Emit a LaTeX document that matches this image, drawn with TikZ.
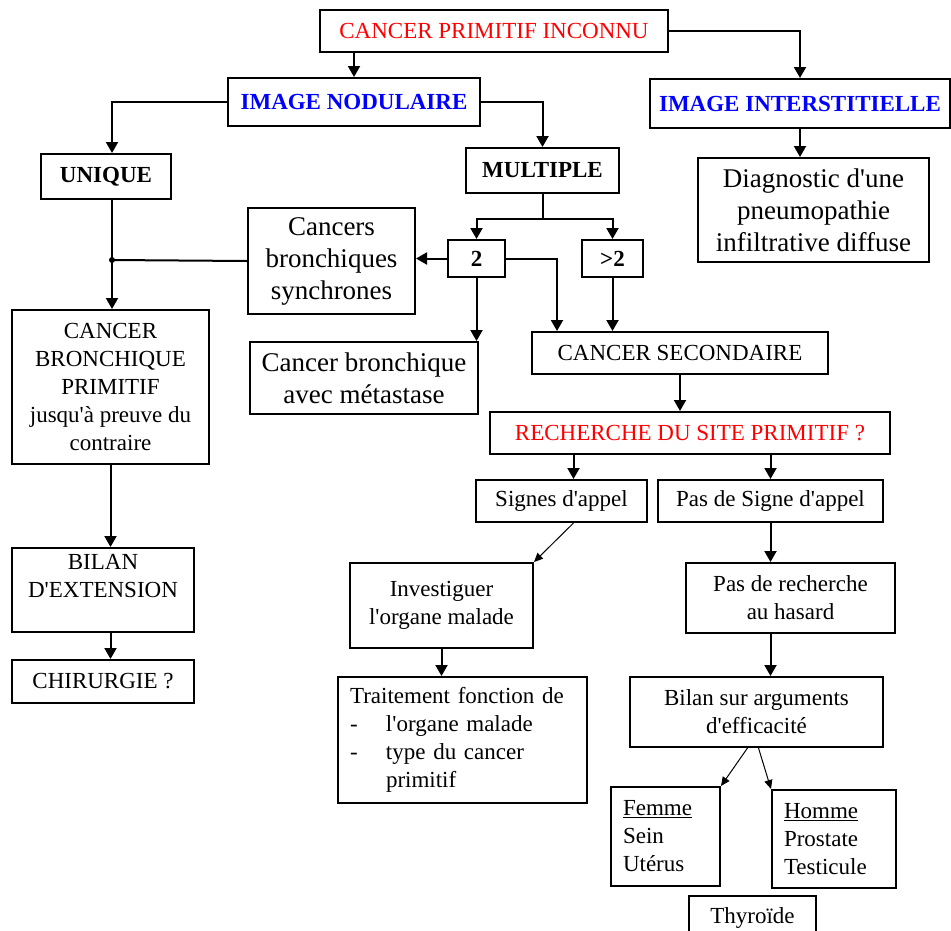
\documentclass[tikz,border=0pt]{standalone}
\usepackage{fontspec}
\setmainfont{Liberation Serif}[Ligatures=TeXOff]
\usetikzlibrary{positioning,arrows.meta}
\definecolor{diagrouge}{RGB}{255,0,0}
\definecolor{diagbleu}{RGB}{0,0,255}
\tikzset{
  boite/.style={draw,line width=2pt,inner sep=2pt,align=center,font=\fontsize{23}{28}\selectfont},
  grande/.style={boite,font=\fontsize{27}{32}\selectfont},
  gras/.style={boite,font=\fontsize{23}{28}\selectfont\bfseries},
  image/.style={gras,text=diagbleu},
  liste/.style={boite,align=left,inner xsep=12pt},
  trait/.style={line width=2pt},
  fleche/.style={trait,-{Triangle[length=11pt,width=12pt]}},
  oblique/.style={line width=1pt,-{Triangle[length=9pt,width=8pt]}}
}

\begin{document}
\begin{tikzpicture}[x=1pt,y=-1pt]
    \useasboundingbox (0,0) rectangle (951,930);
    % branche du haut
    \node[boite,text=diagrouge,minimum width=348pt,minimum height=42pt] (cpi) at (494,31) {CANCER PRIMITIF INCONNU};
    \node[image,minimum width=252pt,minimum height=48pt] (nod) at (354,102) {IMAGE NODULAIRE};
    \node[image,minimum width=300pt,minimum height=49pt] (inter) at (800,103.5) {IMAGE INTERSTITIELLE};
    \node[gras,minimum width=130pt,minimum height=45pt] (uni) at (106,176.5) {UNIQUE};
    \node[gras,minimum width=153pt,minimum height=45pt] (mul) at (542.5,170.5) {MULTIPLE};
    \node[grande,minimum width=231pt,minimum height=104pt] (diag) at (813.5,210) {Diagnostic d'une\\pneumopathie\\infiltrative diffuse};
    \node[grande,minimum width=167pt,minimum height=106pt] (cbs) at (331.5,261) {Cancers\\bronchiques\\synchrones};
    \node[gras,minimum width=57pt,minimum height=37pt] (deux) at (476.5,258.5) {2};
    \node[gras,minimum width=61pt,minimum height=37pt] (plus) at (612.5,258.5) {>2};
    \node[grande,minimum width=228pt,minimum height=72pt] (met) at (364,378) {Cancer bronchique\\avec métastase};
    \node[boite,minimum width=296pt,minimum height=42pt] (sec) at (680,353) {CANCER SECONDAIRE};
    % colonne de gauche
    \node[boite,minimum width=197pt,minimum height=154pt] (cbp) at (110.5,387) {CANCER\\BRONCHIQUE\\PRIMITIF\\jusqu'à preuve du\\contraire};
    \node[boite,minimum width=182pt,minimum height=84pt] (bex) at (103,590) {BILAN\\D'EXTENSION\\~};
    \node[boite,minimum width=182pt,minimum height=43pt] (chi) at (103,681.5) {CHIRURGIE ?};
    % recherche du site primitif
    \node[boite,text=diagrouge,minimum width=400pt,minimum height=42pt] (rec) at (690,433) {RECHERCHE DU SITE PRIMITIF ?};
    \node[boite,minimum width=171pt,minimum height=42pt] (sig) at (561.5,501) {Signes d'appel};
    \node[boite,minimum width=225pt,minimum height=42pt] (pas) at (770.5,501) {Pas de Signe d'appel};
    \node[boite,minimum width=183pt,minimum height=85pt] (inv) at (441.5,605.5) {Investiguer\\l'organe malade};
    \node[boite,minimum width=209pt,minimum height=70pt] (prh) at (790.5,598) {Pas de recherche\\au hasard};
    \node[liste,text width=225pt,minimum height=126pt] (trt) at (462.5,740) {Traitement fonction de\\\makebox[36pt][l]{-}l'organe malade\\\makebox[36pt][l]{-}type du cancer\\\hspace*{36pt}primitif};
    \node[boite,minimum width=253pt,minimum height=70pt] (bil) at (756.5,712) {Bilan sur arguments\\d'efficacité};
    \node[liste,text width=85pt,minimum height=99pt] (fem) at (665.5,836.5) {\underline{Femme}\\Sein\\Utérus};
    \node[liste,text width=100pt,minimum height=98pt] (hom) at (834,839) {\underline{Homme}\\Prostate\\Testicule};
    \node[boite,minimum width=127pt,minimum height=44pt] (thy) at (752.5,918) {Thyroïde};
    % liaisons
    \coordinate (jonction) at (112,260);
    \draw[fleche] (cpi.south -| nod.north) -- (nod.north);
    \draw[fleche] (cpi.east) -| (inter.north);
    \draw[fleche] (nod.west) -| (jonction |- uni.north);
    \draw[fleche] (nod.east) -| (mul.north);
    \draw[fleche] (inter.south) -- (inter.south |- diag.north);
    \draw[trait] (jonction |- uni.south) -- (jonction);
    \draw[trait] (cbs.west) -- (jonction);
    \fill (jonction) circle (3);
    \draw[fleche] (jonction) -- (jonction |- cbp.north);
    \draw[trait] (mul.south) -- ++(0,25) coordinate (fourche);
    \draw[fleche] (fourche) -| (deux.north);
    \draw[fleche] (fourche) -| (plus.north);
    \draw[fleche] (deux.west) -- (deux.west -| cbs.east);
    \draw[fleche] (deux.east) -| ([xshift=26pt]sec.north west);
    \draw[fleche] (plus.south) -- (plus.south |- sec.north);
    \draw[fleche] (deux.south) -- (deux.south |- met.north);
    \draw[fleche] (sec.south) -- (sec.south |- rec.north);
    \draw[fleche] (cbp.south) -- (cbp.south |- bex.north);
    \draw[fleche] (cbp.south |- bex.south) -- (cbp.south |- chi.north);
    \draw[fleche] ([xshift=12pt]sig.north |- rec.south) -- ([xshift=12pt]sig.north);
    \draw[fleche] (pas.north |- rec.south) -- (pas.north);
    \draw[oblique] ([xshift=12pt]sig.south) -- (inv.north east);
    \draw[fleche] (pas.south) -- (pas.south |- prh.north);
    \draw[fleche] (inv.south) -- (inv.south |- trt.north);
    \draw[fleche] (pas.south |- prh.south) -- (pas.south |- bil.north);
    \draw[oblique] ([xshift=-9pt]bil.south) -- (fem.north east);
    \draw[oblique] ([xshift=2pt]bil.south) -- (hom.north west);
  \end{tikzpicture}
\end{document}
